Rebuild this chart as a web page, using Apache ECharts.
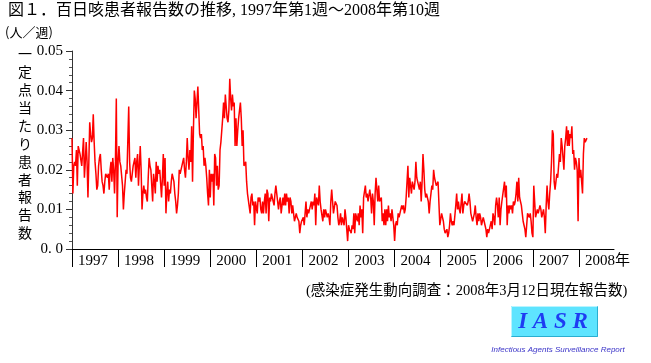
<!DOCTYPE html>
<html>
<head>
<meta charset="utf-8">
<script src="https://cdn.jsdelivr.net/npm/echarts@6/dist/echarts.min.js"></script>
<style>
html,body{margin:0;padding:0;background:#fff;}
#chart{width:651px;height:363px;}
</style>
</head>
<body>
<div id="chart"></div>
<script>
// Weekly reports per sentinel site (人/週)
const years = [1997,1998,1999,2000,2001,2002,2003,2004,2005,2006,2007,2008];
const yearTickLabels = ['1997','1998','1999','2000','2001','2002','2003','2004','2005','2006','2007','2008年'];
const yTickLabels = ['0. 0','0.01','0.02','0.03','0.04','0.05'];

const w1997 = [.028,.014,.021,.022,.021,.025,.016,.026,.026,.024,.024,.021,.021,.028,.018,.022,.027,.022,.013,.022,.032,.029,.027,.028,.034,.027,.022,.019,.015,.016,.021,.023,.024,.020,.017,.016,.014,.017,.019,.019,.018,.019,.015,.020,.022,.017,.023,.020,.014,.022,.038,.008];
const w1998 = [.022,.026,.022,.021,.021,.016,.010,.014,.017,.020,.019,.019,.036,.022,.018,.017,.017,.021,.022,.023,.018,.022,.024,.016,.021,.026,.020,.010,.014,.016,.014,.015,.013,.012,.018,.023,.021,.020,.016,.012,.019,.017,.014,.022,.017,.021,.019,.020,.020,.013,.018,.024];
const w1999 = [.016,.023,.009,.014,.017,.012,.015,.014,.017,.019,.019,.017,.014,.012,.009,.011,.014,.020,.019,.019,.021,.022,.023,.020,.018,.022,.028,.023,.020,.025,.022,.031,.017,.030,.040,.038,.033,.033,.041,.035,.029,.028,.029,.025,.026,.021,.023,.021,.018,.014,.011,.020];
const w2000 = [.013,.019,.017,.019,.011,.024,.023,.016,.021,.015,.016,.025,.027,.030,.033,.037,.033,.039,.036,.033,.032,.035,.043,.038,.035,.039,.036,.037,.026,.033,.026,.030,.033,.035,.037,.033,.026,.030,.021,.021,.022,.017,.014,.014,.014,.009,.013,.014,.011,.012,.006,.012];
const w2001 = [.012,.009,.013,.012,.013,.010,.009,.012,.009,.012,.014,.009,.015,.014,.007,.013,.012,.014,.013,.012,.011,.014,.016,.014,.012,.010,.012,.013,.009,.009,.013,.011,.014,.011,.014,.012,.013,.009,.013,.012,.009,.011,.009,.007,.008,.009,.008,.008,.007,.004,.006,.007];
const w2002 = [.007,.008,.006,.009,.012,.008,.010,.009,.009,.011,.012,.010,.012,.011,.014,.006,.013,.013,.011,.016,.012,.010,.010,.007,.010,.008,.010,.010,.008,.009,.008,.006,.012,.015,.012,.009,.009,.012,.012,.011,.008,.006,.007,.009,.006,.008,.007,.006,.010,.008,.005,.002];
const w2003 = [.006,.005,.005,.004,.006,.005,.009,.004,.009,.009,.007,.009,.006,.011,.008,.010,.004,.013,.013,.016,.013,.014,.012,.012,.015,.013,.009,.014,.012,.006,.014,.018,.015,.012,.016,.012,.012,.013,.007,.009,.006,.010,.006,.010,.007,.011,.008,.009,.007,.010,.008,.006];
const w2004 = [.002,.006,.007,.006,.009,.008,.009,.010,.011,.010,.011,.009,.010,.013,.013,.021,.013,.018,.018,.014,.017,.017,.015,.017,.022,.018,.018,.016,.015,.017,.012,.017,.024,.020,.015,.013,.014,.014,.012,.009,.012,.014,.016,.015,.020,.018,.018,.016,.016,.017,.017,.006];
const w2005 = [.006,.009,.009,.007,.005,.004,.004,.005,.003,.004,.006,.009,.007,.006,.007,.006,.006,.011,.014,.010,.012,.010,.009,.009,.014,.009,.011,.012,.012,.012,.011,.012,.014,.012,.009,.008,.007,.008,.009,.011,.008,.006,.009,.007,.009,.008,.006,.007,.008,.007,.006,.005];
const w2006 = [.003,.005,.004,.004,.004,.007,.005,.009,.008,.006,.011,.013,.011,.008,.013,.006,.010,.012,.012,.012,.017,.013,.016,.006,.011,.009,.011,.010,.011,.009,.012,.011,.012,.014,.017,.012,.018,.013,.012,.011,.009,.007,.006,.005,.003,.006,.009,.009,.008,.009,.007,.004];
const w2007 = [.003,.016,.012,.008,.009,.010,.009,.010,.011,.010,.008,.009,.010,.008,.004,.011,.016,.012,.010,.014,.017,.022,.030,.029,.017,.015,.017,.019,.018,.021,.024,.022,.028,.026,.026,.020,.026,.028,.031,.026,.030,.026,.029,.028,.031,.024,.025,.020,.023,.022,.020,.007];
const w2008 = [.023,.018,.020,.017,.014,.024,.028,.027,.027,.028];

const weekly = [w1997,w1998,w1999,w2000,w2001,w2002,w2003,w2004,w2005,w2006,w2007,w2008];
const WEEKS_PER_YEAR = 52;

const seriesData = [];
weekly.forEach((arr, yi) => {
  arr.forEach((v, wi) => {
    seriesData.push([years[yi] + wi / WEEKS_PER_YEAR, v]);
  });
});

const SERIF = "'Liberation Serif','Noto Sans CJK JP',serif";
const CJK = "'Noto Sans CJK JP','Liberation Serif',sans-serif";

const chart = echarts.init(document.getElementById('chart'), null, {renderer: 'canvas'});
chart.setOption({
  animation: false,
  backgroundColor: '#ffffff',
  title: {
    text: '図１．百日咳患者報告数の推移, 1997年第1週～2008年第10週',
    left: 8,
    top: 3,
    padding: 0,
    textStyle: {fontSize: 16, fontWeight: 'normal', color: '#000', fontFamily: SERIF}
  },
  grid: {left: 72, right: 37, top: 51, bottom: 114, containLabel: false},
  xAxis: {
    type: 'value',
    min: 1997,
    max: 2008.76,
    axisLine: {show: true, onZero: false, lineStyle: {color: '#000', width: 1}},
    axisTick: {show: true, length: 18, customValues: years, lineStyle: {color: '#000', width: 1}},
    axisLabel: {
      show: true,
      customValues: years,
      formatter: (v) => yearTickLabels[years.indexOf(Math.round(v))],
      align: 'left',
      padding: [0, 0, 0, 6],
      margin: 5,
      fontSize: 15,
      fontFamily: SERIF,
      color: '#000'
    },
    splitLine: {show: false}
  },
  yAxis: {
    type: 'value',
    min: 0,
    max: 0.05,
    interval: 0.01,
    axisLine: {show: true, lineStyle: {color: '#333', width: 1}},
    axisTick: {show: true, length: 6, lineStyle: {color: '#333'}},
    minorTick: {show: true, splitNumber: 5, length: 3, lineStyle: {color: '#555'}},
    axisLabel: {
      formatter: (v) => yTickLabels[Math.round(v * 100)],
      fontSize: 15,
      fontFamily: SERIF,
      color: '#000',
      margin: 9
    },
    splitLine: {show: false}
  },
  series: [{
    type: 'line',
    data: seriesData,
    showSymbol: false,
    symbol: 'none',
    lineStyle: {color: '#ff0000', width: 1.5},
    z: 3
  }],
  graphic: [
    {type: 'text', left: 5, top: 26, style: {text: '(人／週)', font: "13px " + CJK, fill: '#000'}},
    {type: 'text', left: 18, top: 45, style: {text: '一\n定\n点\n当\nた\nり\n患\n者\n報\n告\n数', font: "14px " + CJK, lineHeight: 17.9, fill: '#000'}},
    {type: 'text', left: 306, top: 284, style: {text: '(感染症発生動向調査：2008年3月12日現在報告数)', font: "14.5px " + SERIF, fill: '#000'}},
    {type: 'rect', shape: {x: 511, y: 306, width: 87, height: 31}, style: {fill: '#5ee4ff', stroke: null}},
    {type: 'polyline', shape: {points: [[511.5, 336.5], [511.5, 306.5], [597.5, 306.5]]}, style: {stroke: '#b8f4ff', lineWidth: 1, fill: null}},
    {type: 'polyline', shape: {points: [[597.5, 306.5], [597.5, 336.5], [511.5, 336.5]]}, style: {stroke: '#2aaed0', lineWidth: 1, fill: null}},
    {type: 'text', x: 553, y: 322, style: {text: 'I A S R', font: "italic bold 23px 'Liberation Serif',serif", fill: '#1f3cf2', textAlign: 'center', textVerticalAlign: 'middle'}},
    {type: 'text', x: 558, y: 350, style: {text: 'Infectious Agents Surveillance Report', font: "italic 8px 'Liberation Sans',sans-serif", fill: '#3b34c8', textAlign: 'center', textVerticalAlign: 'middle'}}
  ]
});
</script>
</body>
</html>
